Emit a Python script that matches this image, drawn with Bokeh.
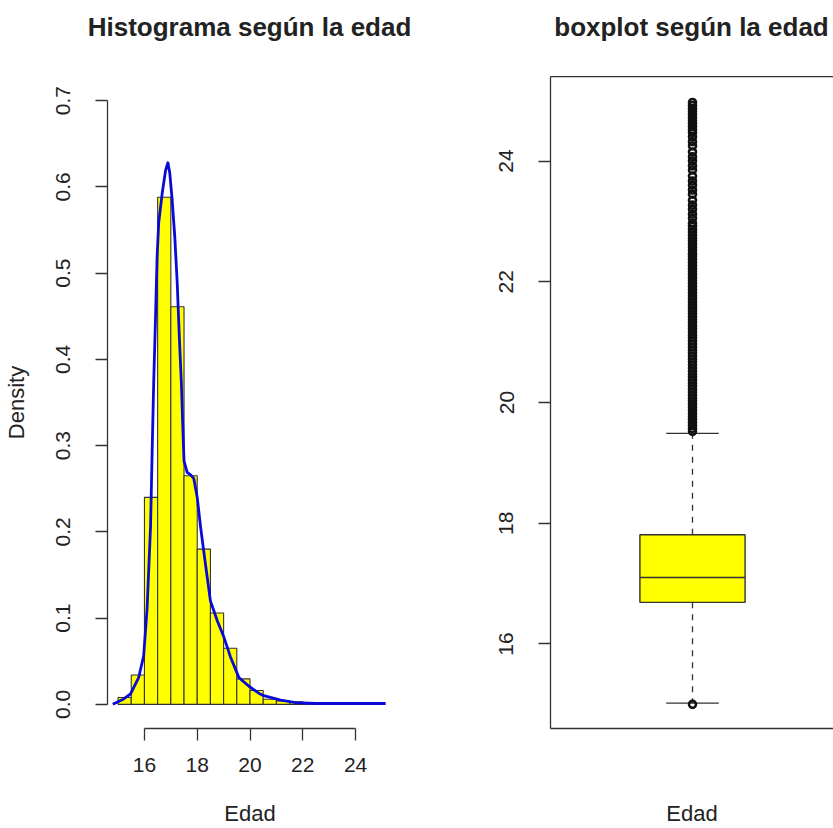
from bokeh.plotting import figure
from bokeh.layouts import row, column
from bokeh.models import FixedTicker, LinearAxis, Range1d, PrintfTickFormatter
from bokeh.core.properties import value
from bokeh.embed import file_html
from bokeh.resources import INLINE

# ---- Histogram of Edad (density scale), bins of width 0.5 ----
bin_edges = [15.0, 15.5, 16.0, 16.5, 17.0, 17.5, 18.0, 18.5, 19.0, 19.5, 20.0,
             20.5, 21.0, 21.5, 22.0, 22.5, 23.0, 23.5, 24.0, 24.5, 25.0]
bin_density = [0.008, 0.034, 0.240, 0.588, 0.461, 0.265, 0.180, 0.106, 0.065, 0.0295,
               0.016, 0.006, 0.004, 0.003, 0.0012, 0.0008, 0.0006, 0.0005, 0.0004, 0.0004]

# Kernel density estimate of Edad
dens_x = [14.80, 15.20, 15.47, 15.78, 15.97, 16.10, 16.23, 16.29, 16.35, 16.42,
          16.48, 16.54, 16.67, 16.80, 16.89, 16.96, 17.05, 17.15, 17.24, 17.33,
          17.40, 17.45, 17.50, 17.62, 17.75, 17.87, 18.00, 18.13, 18.31, 18.50,
          18.76, 19.01, 19.26, 19.58, 19.96, 20.33, 20.52, 21.16, 21.73, 22.50,
          25.14]
dens_y = [0.000, 0.006, 0.012, 0.031, 0.056, 0.111, 0.205, 0.290, 0.372, 0.449,
          0.519, 0.558, 0.592, 0.619, 0.628, 0.616, 0.585, 0.542, 0.490, 0.420,
          0.372, 0.325, 0.282, 0.269, 0.266, 0.262, 0.240, 0.205, 0.163, 0.120,
          0.097, 0.078, 0.055, 0.031, 0.021, 0.013, 0.010, 0.005, 0.002, 0.001,
          0.001]

# ---- Boxplot summary of Edad ----
box_q1 = 16.69
box_median = 17.10
box_q3 = 17.81
whisker_low = 15.02
whisker_high = 19.49
outliers = [15.00,
            19.52, 19.57, 19.62, 19.67, 19.72, 19.77, 19.82, 19.87, 19.92, 19.97,
            20.02, 20.07, 20.12, 20.17, 20.22, 20.27, 20.32, 20.37, 20.42, 20.47,
            20.52, 20.57, 20.62, 20.67, 20.72, 20.77, 20.82, 20.87, 20.92, 20.97,
            21.02, 21.07, 21.12, 21.17, 21.22, 21.27, 21.32, 21.37, 21.42, 21.47,
            21.52, 21.57, 21.62, 21.67, 21.72, 21.77, 21.82, 21.87, 21.92, 21.97,
            22.02, 22.07, 22.12, 22.17, 22.22, 22.27, 22.32, 22.37, 22.42, 22.47,
            22.52, 22.57, 22.62, 22.67, 22.72, 22.77, 22.82, 22.87, 22.92, 22.97,
            23.05, 23.12, 23.20, 23.27, 23.35, 23.45, 23.52, 23.60, 23.67, 23.75,
            23.85, 23.92, 24.00, 24.07, 24.15, 24.25, 24.32, 24.40, 24.47, 24.52,
            24.57, 24.62, 24.67, 24.72, 24.77, 24.82, 24.87, 24.92, 24.97]

panel_titles = ["Histograma según la edad", "boxplot según la edad"]
x_title = "Edad"
y_title = "Density"

FONT = "Liberation Sans"
INK = "#222222"
LINE = "#333333"

HEAD_H = 76     # strip holding the main title
FOOT_H = 44     # strip holding the x-axis title
MAIN_H = 828 - HEAD_H - FOOT_H


def style_axis(ax):
    ax.axis_line_color = LINE
    ax.axis_line_width = 1.3
    ax.major_tick_line_color = LINE
    ax.major_tick_line_width = 1.3
    ax.major_tick_in = 0
    ax.major_tick_out = 12
    ax.minor_tick_line_color = None
    ax.major_label_text_font = FONT
    ax.major_label_text_font_size = "21px"
    ax.major_label_text_color = INK
    ax.axis_label_text_font = FONT
    ax.axis_label_text_font_size = "22px"
    ax.axis_label_text_font_style = "normal"
    ax.axis_label_text_color = INK


def text_strip(width, height, label, cx, cy, size, style):
    # a bare strip (no axes, no border) holding one centred line of text
    s = figure(width=width, height=height, x_range=Range1d(0, width), y_range=Range1d(0, height),
               x_axis_location=None, y_axis_location=None,
               output_backend="svg", toolbar_location=None, frame_align=False,
               min_border_left=0, min_border_right=0, min_border_top=0, min_border_bottom=0)
    s.outline_line_color = None
    s.xgrid.visible = False
    s.ygrid.visible = False
    s.text(x=[cx], y=[cy], text=[label], text_align="center",
           text_baseline="middle", text_font=value(FONT),
           text_font_size=size, text_font_style=style, text_color=INK)
    return s


def main_figure(width, x_range, y_range, left, right):
    p = figure(width=width, height=MAIN_H, x_range=x_range, y_range=y_range,
               output_backend="svg", toolbar_location=None, frame_align=False,
               min_border_left=left, min_border_right=right,
               min_border_top=0, min_border_bottom=MAIN_H - 652)
    p.outline_line_color = None
    p.xgrid.visible = False
    p.ygrid.visible = False
    p.background_fill_color = "white"
    p.border_fill_color = "white"
    return p


# ---------------- left panel: histogram + density ----------------
p1 = main_figure(416, Range1d(14.6, 25.4), Range1d(-0.028, 0.728), 107, 24)
p1.yaxis.axis_label = y_title

xa = p1.xaxis[0]
style_axis(xa)
xa.ticker = FixedTicker(ticks=[16, 18, 20, 22, 24])
xa.bounds = (16, 24)
xa.major_label_standoff = 17

ya = p1.yaxis[0]
style_axis(ya)
ya.ticker = FixedTicker(ticks=[0.0, 0.1, 0.2, 0.3, 0.4, 0.5, 0.6, 0.7])
ya.formatter = PrintfTickFormatter(format="%.1f")
ya.bounds = (0.0, 0.7)
ya.major_label_orientation = "parallel"
ya.major_label_standoff = 25
ya.axis_label_standoff = 25

p1.quad(left=bin_edges[:-1], right=bin_edges[1:], bottom=0, top=bin_density,
        fill_color="#FFFF00", line_color=LINE, line_width=1.1)
p1.line(dens_x, dens_y, line_color="#0A0AD6", line_width=2.8, line_join="round")

h1 = text_strip(416, HEAD_H, panel_titles[0], 249, 50, "26px", "bold")
f1 = text_strip(416, FOOT_H, x_title, 249.5, 15, "22px", "normal")

# ---------------- right panel: boxplot ----------------
p2 = main_figure(417, Range1d(0.46, 1.5362), Range1d(14.6, 25.4), 134, 0)

bx = p2.xaxis[0]
style_axis(bx)
bx.ticker = FixedTicker(ticks=[])
bx.major_tick_out = 0

by = p2.yaxis[0]
style_axis(by)
by.ticker = FixedTicker(ticks=[16, 18, 20, 22, 24])
by.major_label_orientation = "parallel"
by.major_label_standoff = 25

# top edge of the plot box
top_edge = LinearAxis(ticker=FixedTicker(ticks=[]), axis_line_color=LINE,
                      axis_line_width=1.3, major_tick_out=0, major_tick_in=0,
                      minor_tick_line_color=None, major_label_text_font_size="0px")
p2.add_layout(top_edge, "above")

center = 1.0
half_box = 0.2
half_cap = 0.1

# whiskers
p2.segment(x0=[center, center], y0=[box_q3, box_q1], x1=[center, center],
           y1=[whisker_high, whisker_low], line_color=LINE, line_width=1.3,
           line_dash="6 6")
p2.segment(x0=[center - half_cap] * 2, y0=[whisker_high, whisker_low],
           x1=[center + half_cap] * 2, y1=[whisker_high, whisker_low],
           line_color=LINE, line_width=1.3)
# box and median
p2.quad(left=[center - half_box], right=[center + half_box], bottom=[box_q1], top=[box_q3],
        fill_color="#FFFF00", line_color=LINE, line_width=1.4)
p2.segment(x0=[center - half_box], y0=[box_median], x1=[center + half_box], y1=[box_median],
           line_color=LINE, line_width=1.4)
# outlying values
p2.scatter(x=[center] * len(outliers), y=outliers, marker="circle", size=7,
           fill_color=None, line_color="#111111", line_width=2.6)

h2 = text_strip(417, HEAD_H, panel_titles[1], 275, 50, "26px", "bold")
f2 = text_strip(417, FOOT_H, x_title, 275.5, 15, "22px", "normal")

layout = row(column(h1, p1, f1), column(h2, p2, f2))
open("out.html", "w").write(file_html(layout, INLINE))
